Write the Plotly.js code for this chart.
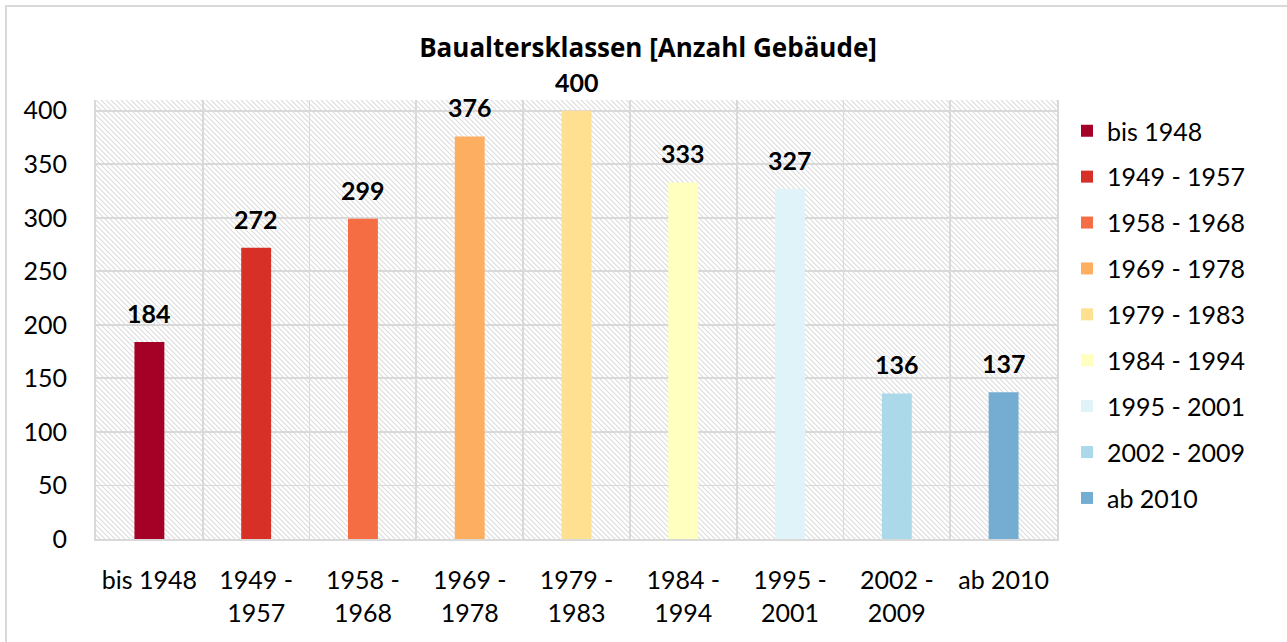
<!DOCTYPE html>
<html>
<head>
<meta charset="utf-8">
<script src="https://cdn.plot.ly/plotly-3.0.1.min.js"></script>
<style>html,body{margin:0;padding:0;background:#fff;}#chart{width:1287px;height:642px;}</style>
</head>
<body>
<div id="chart"></div>
<script>
// Data
const categories = ['bis 1948','1949 - 1957','1958 - 1968','1969 - 1978','1979 - 1983','1984 - 1994','1995 - 2001','2002 - 2009','ab 2010'];
const tickLabels = ['bis 1948','1949 -<br>1957','1958 -<br>1968','1969 -<br>1978','1979 -<br>1983','1984 -<br>1994','1995 -<br>2001','2002 -<br>2009','ab 2010'];
const values = [184, 272, 299, 376, 400, 333, 327, 136, 137];
const colors = ['#a50026','#d73027','#f46d43','#fdae61','#fee090','#ffffbf','#e0f3f8','#abd9e9','#74add1'];
const yTicks = [0,50,100,150,200,250,300,350,400];

const FONT = 'Lato, "Open Sans", "Noto Sans", sans-serif';

const traces = categories.map((c, i) => ({
  type: 'bar',
  name: c,
  x: [c],
  y: [values[i]],
  width: 0.28,
  marker: {color: colors[i], line: {width: 0}},
  legendgroup: 'g' + i,
  hoverinfo: 'x+y',
  cliponaxis: false
}));

const annotations = categories.map((c, i) => ({
  x: c, y: values[i], xref: 'x', yref: 'y',
  text: '<b>' + values[i] + '</b>',
  showarrow: false, yanchor: 'bottom', yshift: 12,
  font: {family: FONT, size: 25, color: '#000'}
}));

const hatchSvg = '<svg xmlns="http://www.w3.org/2000/svg" width="961" height="439" viewBox="0 0 961 439" preserveAspectRatio="none">' +
  '<defs><pattern id="p" patternUnits="userSpaceOnUse" width="5" height="5">' +
  '<path d="M-1,-1 L6,6 M-1,4 L1,6 M4,-1 L6,1" stroke="#dcdcdc" stroke-width="1.1"/></pattern></defs>' +
  '<rect width="961" height="439" fill="#ffffff"/><rect width="961" height="439" fill="url(#p)"/></svg>';
const hatchUri = 'data:image/svg+xml;charset=utf-8,' + encodeURIComponent(hatchSvg);

const W = 961, H = 439, L = 96, T = 100;
const px2x = p => (p - L) / W;
const py2y = p => (T + H - p) / H;

const layout = {
  width: 1287, height: 642,
  margin: {l: L, r: 1287 - L - W, t: T, b: 642 - T - H},
  paper_bgcolor: '#ffffff',
  plot_bgcolor: 'rgba(0,0,0,0)',
  font: {family: FONT, size: 25, color: '#000'},
  title: {
    text: '<b>Baualtersklassen [Anzahl Gebäude]</b>',
    font: {family: '"Open Sans", Lato, sans-serif', size: 26, color: '#000'},
    x: 648 / 1287, xref: 'container', xanchor: 'center',
    y: 1 - 48 / 642, yref: 'container', yanchor: 'middle'
  },
  barmode: 'overlay',
  showlegend: true,
  legend: {
    x: px2x(1067), xanchor: 'left', xref: 'paper',
    y: py2y(108), yanchor: 'top', yref: 'paper',
    font: {family: FONT, size: 25, color: '#000'},
    traceorder: 'grouped', tracegroupgap: 10.4,
    bgcolor: 'rgba(0,0,0,0)', borderwidth: 0
  },
  xaxis: {
    type: 'category',
    categoryorder: 'array', categoryarray: categories,
    tickmode: 'array', tickvals: categories, ticktext: tickLabels,
    tickson: 'boundaries',
    ticks: '', ticklabelstandoff: 18,
    showgrid: true, gridcolor: '#d9d9d9', gridwidth: 1.8,
    showline: true, linecolor: '#d9d9d9', linewidth: 2,
    tickfont: {family: FONT, size: 25, color: '#000'},
    fixedrange: true
  },
  yaxis: {
    range: [0, 410],
    tickmode: 'array', tickvals: yTicks,
    ticks: '', ticklabelstandoff: 22,
    showgrid: true, gridcolor: '#d9d9d9', gridwidth: 1.8,
    zeroline: false,
    showline: true, linecolor: '#d9d9d9', linewidth: 2, mirror: true,
    tickfont: {family: FONT, size: 25, color: '#000'},
    fixedrange: true
  },
  images: [{
    source: hatchUri, xref: 'paper', yref: 'paper',
    x: 0, y: 1, sizex: 1, sizey: 1, xanchor: 'left', yanchor: 'top',
    sizing: 'stretch', layer: 'below'
  }],
  shapes: [{
    type: 'rect', xref: 'paper', yref: 'paper',
    x0: px2x(6), x1: px2x(1300), y0: py2y(6), y1: py2y(660),
    line: {color: '#d9d9d9', width: 2}, fillcolor: 'rgba(0,0,0,0)', layer: 'below'
  }],
  annotations: annotations
};

Plotly.newPlot('chart', traces, layout, {displayModeBar: false, staticPlot: true});
</script>
</body>
</html>
